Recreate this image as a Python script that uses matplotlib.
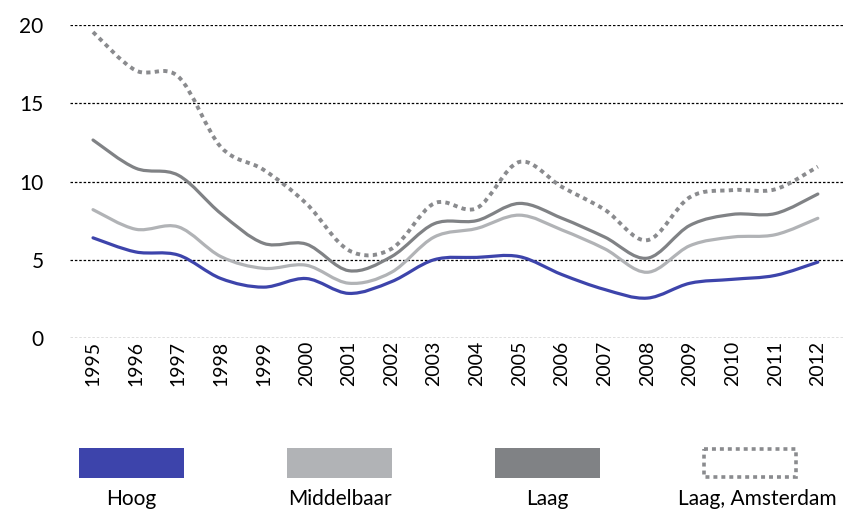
import matplotlib
matplotlib.use("Agg")
import matplotlib.pyplot as plt
from matplotlib.path import Path
from matplotlib.patches import PathPatch, Rectangle
import numpy as np

years = list(range(1995, 2013))
hoog = [6.4, 5.5, 5.3, 3.8, 3.25, 3.8, 2.85, 3.6, 5.0, 5.15, 5.2, 4.05, 3.1, 2.55, 3.5, 3.75, 4.0, 4.85]
middelbaar = [8.2, 6.95, 7.1, 5.2, 4.45, 4.65, 3.5, 4.2, 6.45, 7.0, 7.85, 6.9, 5.7, 4.2, 5.9, 6.45, 6.6, 7.65]
laag = [12.65, 10.85, 10.4, 7.95, 6.05, 6.0, 4.3, 5.2, 7.3, 7.5, 8.6, 7.65, 6.45, 5.1, 7.2, 7.9, 7.95, 9.2]
laag_ams = [19.55, 17.1, 16.7, 12.2, 10.75, 8.6, 5.6, 5.7, 8.6, 8.3, 11.25, 9.65, 8.2, 6.25, 9.0, 9.45, 9.5, 10.95]
series_names = ["Hoog", "Middelbaar", "Laag", "Laag, Amsterdam"]
yticks = [0, 5, 10, 15, 20]

colors = ["#3d44ab", "#b1b3b6", "#808285", "#8a8b8e"]

plt.rcParams['font.family'] = ['Lato', 'DejaVu Sans']

fig = plt.figure(figsize=(8.46, 5.12), dpi=100)
ax = fig.add_axes([70/846, 1-338/512, (843-70)/846, (338-25)/512])


def smooth_path(x, y):
    pts = np.column_stack([x, y]).astype(float)
    n = len(pts)
    verts = [pts[0]]
    codes = [Path.MOVETO]
    for i in range(n - 1):
        p0 = pts[i - 1] if i > 0 else pts[i]
        p1 = pts[i]
        p2 = pts[i + 1]
        p3 = pts[i + 2] if i + 2 < n else pts[i + 1]
        c1 = p1 + (p2 - p0) / 6.0
        c2 = p2 - (p3 - p1) / 6.0
        verts += [c1, c2, p2]
        codes += [Path.CURVE4] * 3
    return Path(verts, codes)


for yt in yticks:
    ax.axhline(yt, color="black", lw=0.9, ls=(0, (2, 1.5)), zorder=1)

data = [hoog, middelbaar, laag, laag_ams]
for k, (vals, c) in enumerate(zip(data, colors)):
    p = smooth_path(years, vals)
    if k == 3:
        patch = PathPatch(p, facecolor="none", edgecolor=c, lw=2.8,
                          linestyle=(0, (1.1, 1.1)), capstyle="butt", zorder=2)
    else:
        patch = PathPatch(p, facecolor="none", edgecolor=c, lw=2.3,
                          capstyle="round", joinstyle="round", zorder=3)
    ax.add_patch(patch)

ax.set_xlim(1994.46, 2012.59)
ax.set_ylim(0, 20)
ax.set_yticks(yticks)
ax.set_yticklabels([str(v) for v in yticks], fontsize=15)
ax.set_xticks(years)
ax.set_xticklabels([str(y) for y in years], rotation=90, fontsize=14, va="top")
ax.tick_params(length=0)
ax.tick_params(axis="x", pad=2)
ax.tick_params(axis="y", pad=19)
for s in ax.spines.values():
    s.set_visible(False)

# legend
lax = fig.add_axes([0, 0, 1, 1])
lax.set_xlim(0, 846)
lax.set_ylim(512, 0)
lax.axis("off")
lx = [79, 287, 495, 704]
for i, (name, c) in enumerate(zip(series_names, colors)):
    if i < 3:
        lax.add_patch(Rectangle((lx[i], 448), 105, 30, facecolor=c, edgecolor="none"))
        cx = lx[i] + 52.5
    else:
        lax.add_patch(Rectangle((lx[i], 449), 92, 28, facecolor="none", edgecolor=c,
                                lw=2.6, linestyle=(0, (1.1, 1.1))))
        cx = 757
    lax.text(cx, 499, name, ha="center", va="center", fontsize=15)

fig.savefig("out.png", dpi=100)
